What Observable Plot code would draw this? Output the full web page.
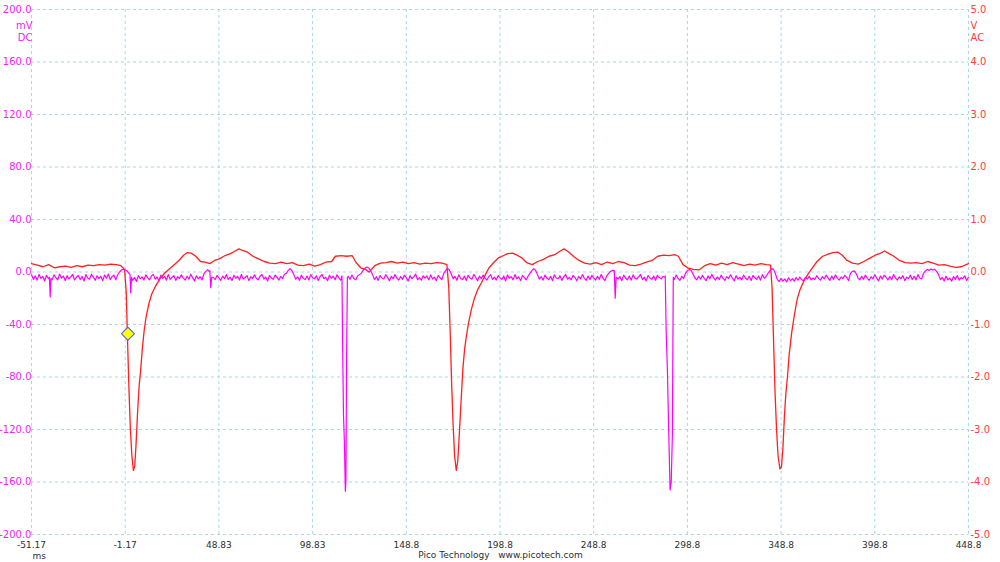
<!DOCTYPE html>
<html><head><meta charset="utf-8">
<script src="https://cdn.jsdelivr.net/npm/d3@7"></script>
<script src="https://cdn.jsdelivr.net/npm/@observablehq/plot@0.6"></script>
<style>body{margin:0;background:#fff;} #chart{width:1000px;height:562px;}</style>
</head><body><div id="chart"></div>
<script>
// ---- axes / ticks ----
const xTicks = [-51.17, -1.17, 48.83, 98.83, 148.83, 198.83, 248.83, 298.83, 348.83, 398.83, 448.83];
const xLabels = ["-51.17", "-1.17", "48.83", "98.83", "148.8", "198.8", "248.8", "298.8", "348.8", "398.8", "448.8"];
const mvTicks = [-200, -160, -120, -80, -40, 0, 40, 80, 120, 160, 200];
const mvLabels = ["-200.0", "-160.0", "-120.0", "-80.0", "-40.0", "0.0", "40.0", "80.0", "120.0", "160.0", "200.0"];
const vLabels = ["-5.0", "-4.0", "-3.0", "-2.0", "-1.0", "0.0", "1.0", "2.0", "3.0", "4.0", "5.0"];
const mvPerVolt = 40; // 200 mV DC range ↔ 5 V AC range

// ---- Channel B (magenta, mV DC): sampled baseline, 1 ms step ----
const magStartMs = -51.17, magStepMs = 1;
const magBaseMv = [
 -2.1,-5.6,-3.0,-6.2,-1.8,-4.9,-3.3,-6.8,-2.5,-5.1,
 -3.8,-6.0,-2.2,-4.4,-5.9,-1.6,-4.7,-3.1,-6.5,-2.8,
 -5.3,-3.6,-1.9,-6.1,-4.0,-2.6,-5.7,-3.4,-6.9,-2.0,
 -4.6,-5.5,-1.7,-3.9,-6.3,-2.9,-5.0,-3.2,-6.6,-2.3,
 -4.8,-1.5,-5.8,-3.5,-2.4,-6.0,-2.0,0.0,1.5,2.2,
 1.5,0.8,-1.0,-3.0,-6.4,-4.1,-7.2,-2.7,-5.2,-3.7,
 -6.0,-2.2,-4.5,-5.9,-3.0,-1.8,-5.4,-3.8,-6.7,-2.4,
 -4.9,-3.3,-6.2,-1.9,-5.6,-4.0,-2.8,-6.4,-3.5,-5.0,
 -2.1,-4.7,-6.1,-3.2,-5.5,-1.7,-4.3,-6.8,-2.9,-5.2,
 -3.6,-6.0,-1.5,0.5,1.8,0.0,-4.0,-4.0,-5.8,-2.6,
 -4.4,-6.3,-3.1,-5.0,-2.0,-5.7,-3.9,-6.5,-2.5,-4.8,
 -3.4,-6.1,-1.8,-5.3,-4.2,-2.7,-6.6,-3.6,-5.1,-2.2,
 -4.9,-6.0,-3.0,-1.9,-5.4,-3.8,-6.9,-2.6,-4.6,-5.6,
 -2.3,-4.1,-6.2,-3.3,-5.0,-1.7,-1.0,1.2,2.5,1.0,
 -2.0,-5.5,-3.7,-6.3,-2.4,-4.7,-5.8,-3.1,-6.0,-2.0,
 -4.4,-5.2,-2.9,-6.5,-3.5,-1.8,-5.1,-4.0,-6.7,-2.5,
 -4.8,-3.2,-5.9,-2.1,-4.5,-6.2,-4.0,-4.0,-4.0,-3.4,
 -5.6,-2.3,-4.9,-6.0,-3.0,-2.0,-1.0,1.5,3.0,3.8,
 3.0,1.0,-2.0,-5.8,-3.6,-6.4,-2.7,-4.6,-5.3,-2.0,
 -4.1,-6.6,-3.3,-5.1,-1.9,-4.8,-6.1,-3.5,-5.6,-2.4,
 -4.3,-6.9,-2.8,-5.0,-3.7,-1.6,-5.9,-4.2,-6.2,-2.9,
 -4.7,-3.0,-6.0,-2.2,-5.4,-3.9,-6.6,-2.6,-4.4,-5.7,
 -1.0,1.0,2.8,1.5,-1.5,-5.2,-3.4,-6.3,-2.1,-4.9,
 -5.8,-3.1,-6.4,-2.5,-4.6,-5.5,-1.8,-4.0,-6.7,-3.2,
 -5.1,-2.4,-4.8,-6.1,-3.6,-2.0,-5.7,-3.9,-6.2,-2.7,
 -4.5,-5.6,-3.0,-6.8,-2.2,-4.9,-3.5,-6.0,-1.9,-5.3,
 -3.8,-6.5,-2.6,-4.3,-5.9,-3.1,-1.0,1.0,2.6,1.2,
 -2.0,-5.4,-3.6,-6.2,-2.3,-4.7,-5.8,-3.3,-6.6,-2.1,
 -4.6,-5.1,-2.8,-6.4,-3.7,-1.7,-5.5,-4.1,-6.0,-2.5,
 -4.2,-6.7,-3.4,-5.2,-2.0,-4.8,-6.3,-3.0,-5.7,-2.6,
 -4.4,-6.1,-3.2,-5.6,-1.8,-4.9,-6.5,-2.9,-1.0,0.5,
 1.2,-4.0,-4.0,-5.3,-3.5,-6.6,-2.4,-4.6,-5.9,-3.1,
 -6.2,-2.2,-4.7,-5.4,-3.6,-1.9,-5.8,-3.9,-6.8,-2.7,
 -4.5,-5.6,-3.1,-6.3,-2.5,-4.2,-5.2,-3.4,-4.0,-4.0,
 -4.0,-4.0,-4.0,-5.8,-2.3,-4.9,-6.4,-3.3,-5.0,-1.0,
 1.0,2.0,1.2,-1.5,-4.6,-6.0,-3.2,-5.5,-2.6,-4.8,
 -6.6,-3.0,-5.2,-1.8,-4.3,-6.1,-3.7,-5.7,-2.4,-4.9,
 -6.3,-3.5,-5.0,-2.1,-4.6,-6.8,-2.8,-5.4,-3.9,-6.0,
 -2.3,-4.7,-5.9,-3.2,-6.5,-2.6,-4.4,-5.6,-3.0,-6.2,
 -2.0,-4.8,-3.4,-1.0,1.0,2.6,2.0,-1.5,-5.8,-7.2,
 -4.9,-6.9,-5.3,-7.5,-4.4,-6.7,-5.1,-7.0,-4.2,-6.3,
 -3.8,-5.9,-6.6,-4.1,-5.4,-3.3,-6.0,-4.6,-5.7,-2.8,
 -4.9,-6.2,-3.5,-5.3,-2.4,-4.5,-6.4,-3.1,-5.6,-2.2,
 -4.7,-6.1,-3.8,-5.0,-2.6,-4.3,-6.5,-1.0,0.5,0.8,
 -1.0,-4.4,-6.0,-3.2,-5.5,-2.3,-4.8,-6.3,-3.6,-5.2,
 -2.1,-4.6,-6.7,-3.0,-5.4,-2.5,-4.0,-6.1,-3.4,-5.8,
 -1.9,-4.5,-6.2,-3.7,-5.0,-2.8,-6.6,-3.9,-4.9,-2.4,
 -5.7,-3.3,-6.0,-2.0,-4.6,-5.3,-1.0,0.8,2.0,1.2,
 2.3,1.5,2.0,0.5,-2.0,-5.8,-4.1,-6.9,-3.2,-6.0,
 -4.6,-7.0,-3.5,-5.6,-2.7,-6.2,-4.3,-5.1,-2.9,-6.4,
 -4.0
];
// spikes on channel B (explicit time ms, value mV)
const magSpikeGroups = [
  {t: [-41.6, -41.2, -40.8], mv: [-4, -19, -5]},
  {t: [1.4, 1.8, 2.2], mv: [-2, -16, -4]},
  {t: [44.0, 44.5, 45.0], mv: [1, -12, -4]},
  {t: [114.5, 114.8, 115.3, 115.8, 116.3, 116.6, 117.0, 117.4], mv: [-3, -50, -108, -130, -167, -160, -60, -4]},
  {t: [259.8, 260.3, 260.8], mv: [1, -20, -4]},
  {t: [287.0, 287.5, 288.2, 288.8, 289.6, 290.2, 290.8, 291.3], mv: [-3, -45, -77, -118, -166, -160, -125, -4]}
];

// ---- Channel A (red, V AC) ----
const redTimesMs = [
 -51.2,-48,-45,-42,-39,-36,-33,-30,-27,-24,-21,-18,-15,-12,-9,-6,-3.5,-1.5,
 -0.6,0.0,0.8,1.6,2.4,3.2,3.9,4.6,5.4,6.2,7.0,8.0,9.0,10.0,11.5,13.0,15.0,17.5,
 20.0,22.5,25.0,27.5,30.0,32.0,34.0,36.5,39.0,41.5,44.0,46.5,49.0,52.0,55.0,57.5,
 59.5,61.5,64.0,67.0,70.0,73.0,76.0,79.0,82.0,85.0,88.0,91.0,94.0,97.0,100.0,103.0,
 106.0,109.0,111.0,114.0,117.0,120.0,122.0,124.5,127.0,129.0,132.0,135.0,138.0,141.0,
 144.0,147.0,150.0,153.0,156.0,159.0,162.0,165.0,168.0,170.5,171.5,172.3,173.0,173.8,
 174.6,175.5,176.3,177.1,178.0,179.0,180.0,181.0,182.0,183.5,185.0,187.0,189.0,191.0,
 193.0,195.5,198.0,200.5,203.0,205.5,208.0,210.5,213.0,216.0,219.0,222.0,225.0,228.0,
 231.0,233.0,235.5,238.0,241.0,244.0,247.0,250.0,253.0,256.0,259.0,262.0,265.0,268.0,
 271.0,274.0,277.0,280.0,283.0,286.0,289.0,292.0,294.0,296.5,299.0,302.0,305.0,308.0,
 311.0,314.0,317.0,320.0,323.0,326.0,329.0,332.0,335.0,338.0,341.0,343.2,344.0,344.8,
 345.6,346.4,347.2,348.2,349.0,349.8,350.6,351.4,352.2,353.2,354.5,356.0,357.5,359.0,
 361.0,363.0,365.5,368.0,371.0,374.0,376.5,379.0,381.5,384.0,387.0,390.0,393.0,396.0,
 399.0,402.0,404.0,406.5,409.0,412.0,415.0,418.0,421.0,424.0,427.0,430.0,433.0,436.0,
 439.0,442.0,445.0,448.8
];
const redVolts = [
 0.16,0.13,0.10,0.14,0.08,0.10,0.11,0.09,0.12,0.10,0.13,0.12,0.14,0.13,0.15,0.14,0.12,0.05,
 -0.4,-1.2,-2.2,-3.0,-3.5,-3.78,-3.7,-3.3,-2.7,-2.2,-1.9,-1.45,-1.1,-0.85,-0.6,-0.42,-0.27,-0.12,
 -0.02,0.06,0.14,0.22,0.32,0.37,0.36,0.30,0.20,0.19,0.16,0.22,0.25,0.31,0.35,0.40,
 0.44,0.41,0.38,0.30,0.25,0.20,0.17,0.16,0.19,0.16,0.18,0.13,0.12,0.15,0.11,0.14,
 0.19,0.20,0.30,0.31,0.30,0.31,0.18,0.08,0.05,0.0,0.12,0.17,0.18,0.20,
 0.17,0.19,0.16,0.18,0.15,0.17,0.16,0.18,0.17,0.14,-0.3,-1.2,-2.1,-2.9,
 -3.5,-3.78,-3.6,-3.1,-2.5,-1.85,-1.45,-1.2,-0.98,-0.72,-0.52,-0.33,-0.2,-0.05,
 0.08,0.18,0.27,0.31,0.35,0.36,0.32,0.27,0.18,0.14,0.20,0.24,0.30,0.33,
 0.40,0.44,0.38,0.30,0.22,0.17,0.15,0.18,0.14,0.19,0.16,0.20,0.18,0.13,
 0.12,0.15,0.19,0.22,0.30,0.32,0.31,0.33,0.30,0.14,0.08,0.05,0.04,0.12,
 0.16,0.13,0.17,0.14,0.18,0.15,0.12,0.15,0.13,0.16,0.14,0.13,-0.3,-1.3,
 -2.3,-3.0,-3.5,-3.75,-3.72,-3.35,-2.75,-2.3,-2.0,-1.55,-1.15,-0.8,-0.5,-0.33,
 -0.17,-0.05,0.08,0.2,0.30,0.34,0.37,0.38,0.32,0.22,0.17,0.15,0.20,0.26,
 0.32,0.36,0.40,0.35,0.30,0.22,0.18,0.17,0.18,0.16,0.20,0.17,0.13,0.14,
 0.11,0.09,0.10,0.16
];

// cursor marker
const markerT = [0.3], markerMv = [-47];

// ---- build tables ----
const magData = [];
magBaseMv.forEach((mv, i) => {
  const t = magStartMs + i * magStepMs;
  const inSpike = magSpikeGroups.some(g => t >= g.t[0] && t <= g.t[g.t.length - 1]);
  if (!inSpike) magData.push({t, mv});
});
magSpikeGroups.forEach(g => g.t.forEach((t, j) => magData.push({t, mv: g.mv[j]})));
magData.sort((a, b) => a.t - b.t);
const redData = redTimesMs.map((t, i) => ({t, mv: redVolts[i] * mvPerVolt}));
const markerData = markerT.map((t, i) => ({t, mv: markerMv[i]}));

const gridColor = "#a4d8ea";
const magenta = "#ff00ff", magentaText = "#f023f0", red = "#ff2020", redText = "#ff3c3c";

const chart = Plot.plot({
  width: 1000, height: 562,
  marginLeft: 31, marginRight: 32, marginTop: 9, marginBottom: 28,
  style: {fontFamily: "'DejaVu Sans', sans-serif", background: "#fff", overflow: "visible"},
  x: {domain: [-51.17, 448.83]},
  y: {domain: [-200, 200]},
  marks: [
    Plot.gridX(xTicks, {stroke: gridColor, strokeOpacity: 1, strokeDasharray: "3,3"}),
    Plot.gridY(mvTicks, {stroke: gridColor, strokeOpacity: 1, strokeDasharray: "3,3"}),
    Plot.line(redData, {x: "t", y: "mv", stroke: red, strokeWidth: 1.3}),
    Plot.line(magData, {x: "t", y: "mv", stroke: magenta, strokeWidth: 1.2}),
    Plot.dot(markerData, {x: "t", y: "mv", symbol: "square", rotate: 45, r: 5.2, fill: "#ffff00", stroke: "#5060c8", strokeWidth: 1}),
    Plot.axisY(mvTicks, {anchor: "left", tickSize: 0, tickPadding: 0, color: magentaText, fontSize: 10,
      tickFormat: d => mvLabels[mvTicks.indexOf(d)], label: null}),
    Plot.axisY(mvTicks, {anchor: "right", tickSize: 0, tickPadding: 2, color: redText, fontSize: 10,
      tickFormat: d => vLabels[mvTicks.indexOf(d)], label: null}),
    Plot.axisX(xTicks, {anchor: "bottom", tickSize: 0, tickPadding: 7, color: "#2e2e2e", fontSize: 9,
      tickFormat: d => xLabels[xTicks.indexOf(d)], label: null}),
    Plot.text(["mV"], {frameAnchor: "top-left", textAnchor: "end", dx: 1, dy: 12, fill: magentaText, fontSize: 10}),
    Plot.text(["DC"], {frameAnchor: "top-left", textAnchor: "end", dx: 1, dy: 24, fill: magentaText, fontSize: 10}),
    Plot.text(["V"], {frameAnchor: "top-right", textAnchor: "start", dx: 2, dy: 12, fill: redText, fontSize: 10}),
    Plot.text(["AC"], {frameAnchor: "top-right", textAnchor: "start", dx: 2, dy: 24, fill: redText, fontSize: 10}),
    Plot.text(["ms"], {frameAnchor: "bottom-left", textAnchor: "start", dx: 1, dy: 24, fill: "#2e2e2e", fontSize: 9}),
    Plot.text(["Pico Technology\u00a0\u00a0\u00a0www.picotech.com"], {frameAnchor: "bottom", dx: 0.5, dy: 23, fill: "#2e2e2e", fontSize: 9})
  ]
});
document.getElementById("chart").appendChild(chart);
</script>
</body></html>
